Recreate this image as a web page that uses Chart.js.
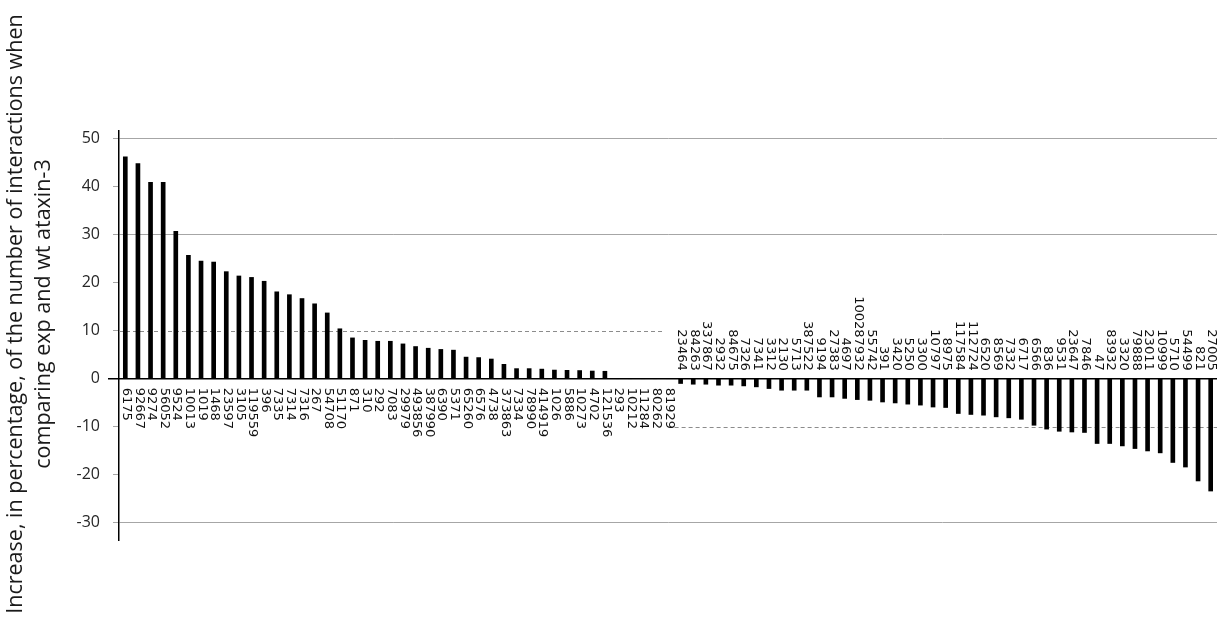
<!DOCTYPE html>
<html>
<head>
<meta charset="utf-8">
<script src="https://cdn.jsdelivr.net/npm/chart.js@4/dist/chart.umd.min.js"></script>
<style>
  html, body { margin: 0; padding: 0; background: #fff; }
  #wrap { width: 1217px; height: 619px; position: relative; }
</style>
</head>
<body>
<div id="wrap"><canvas id="chart" width="1217" height="619"></canvas></div>
<script>
// Gene IDs along the x axis, sorted by change
const categories = [
  '6175','92667','9274','56052','9524','10013','1019','1468','23597','3105',
  '119559','396','7335','7314','7316','267','54708','51170','871','310',
  '292','7083','29979','493856','387990','6390','5371','65260','6576','4738',
  '373863','7334','78990','414919','1026','5886','10273','4702','121536','293',
  '10212','11284','80262','81929','23464','84263','337867','2932','84675','7326',
  '7341','3312','2130','5713','387522','9194','27383','4697','100287932','55742',
  '391','3420','5250','3300','10797','8975','117584','112724','6520','8569',
  '7332','6717','6566','836','9531','23647','7846','47','83932','3320',
  '79888','23011','10999','5710','54499','821','27005'
];

// Percentage change in the number of interactions (exp vs wt ataxin-3)
const changePercent = [
  46.2, 44.8, 40.9, 40.9, 30.7, 25.7, 24.5, 24.3, 22.3, 21.4,
  21.1, 20.3, 18.1, 17.5, 16.7, 15.6, 13.7, 10.4, 8.5, 8.0,
  7.8, 7.8, 7.25, 6.7, 6.35, 6.1, 5.95, 4.5, 4.4, 4.1,
  3.0, 2.1, 2.1, 2.0, 1.8, 1.75, 1.7, 1.6, 1.55, 0,
  0, 0, 0, 0, -1.0, -1.15, -1.15, -1.35, -1.35, -1.5,
  -1.7, -2.05, -2.4, -2.4, -2.4, -3.8, -3.8, -4.1, -4.35, -4.5,
  -4.85, -5.05, -5.3, -5.5, -5.9, -6.0, -7.25, -7.45, -7.6, -7.95,
  -8.15, -8.45, -9.7, -10.5, -10.95, -11.1, -11.2, -13.5, -13.5, -14.0,
  -14.55, -15.05, -15.45, -17.45, -18.4, -21.3, -23.4
];

const yTickValues = [50, 40, 30, 20, 10, 0, -10, -20, -30];
const solidGridValues = [50, 30, -30];
const dashedGuideValues = [10, -10];
const yTitleLines = [
  'Increase, in percentage, of the number of interactions when',
  'comparing exp and wt ataxin-3'
];

// Dashed guides, zero line, rotated gene labels and the two-line axis title
const annotatePlugin = {
  id: 'annotate',
  beforeDatasetsDraw(chart) {
    const { ctx, chartArea, scales } = chart;
    const x = scales.x, y = scales.y;
    ctx.save();
    ctx.strokeStyle = '#8c8c8c';
    ctx.lineWidth = 1;
    ctx.setLineDash([4, 3]);
    // +10 guide spans the rising side, -10 guide the falling side
    const splitLeft = x.getPixelForValue(43) - 4;
    const splitRight = x.getPixelForValue(44) - 6;
    let py = Math.round(y.getPixelForValue(dashedGuideValues[0])) + 0.5;
    ctx.beginPath(); ctx.moveTo(chartArea.left, py); ctx.lineTo(splitLeft, py); ctx.stroke();
    py = Math.round(y.getPixelForValue(dashedGuideValues[1])) + 0.5;
    ctx.beginPath(); ctx.moveTo(splitRight, py); ctx.lineTo(chartArea.right, py); ctx.stroke();
    ctx.restore();
  },
  afterDatasetsDraw(chart) {
    const { ctx, chartArea, scales } = chart;
    const x = scales.x, y = scales.y;
    const y0 = y.getPixelForValue(0);
    ctx.save();
    // zero line
    ctx.strokeStyle = '#000';
    ctx.lineWidth = 1.5;
    ctx.beginPath();
    ctx.moveTo(chartArea.left - 11, y0);
    ctx.lineTo(chartArea.right, y0);
    ctx.stroke();

    // gene labels: below the line for gains, above it for losses
    ctx.fillStyle = '#111';
    ctx.font = '13px "DejaVu Sans"';
    ctx.textBaseline = 'middle';
    categories.forEach((name, i) => {
      const px = x.getPixelForValue(i) + 1;
      const v = changePercent[i];
      ctx.save();
      if (v >= 0) {
        ctx.translate(px, y0 + 9);
        ctx.rotate(Math.PI / 2);
        ctx.textAlign = 'left';
      } else {
        ctx.translate(px, y0 - 8);
        ctx.rotate(Math.PI / 2);
        ctx.textAlign = 'right';
      }
      ctx.fillText(name, 0, 0);
      ctx.restore();
    });

    // axis title
    ctx.fillStyle = '#1a1a1a';
    ctx.font = '21.5px "Open Sans"';
    ctx.textAlign = 'center';
    ctx.textBaseline = 'middle';
    const cy = 314;
    [16, 44].forEach((cx, k) => {
      ctx.save();
      ctx.translate(cx, cy);
      ctx.rotate(-Math.PI / 2);
      ctx.fillText(yTitleLines[k], 0, 0);
      ctx.restore();
    });
    ctx.restore();
  }
};

new Chart(document.getElementById('chart'), {
  type: 'bar',
  data: {
    labels: categories,
    datasets: [{
      data: changePercent,
      backgroundColor: '#000',
      borderWidth: 0,
      barThickness: 4
    }]
  },
  options: {
    responsive: false,
    animation: false,
    layout: { padding: { top: 131, bottom: 79, left: 0, right: 0 } },
    plugins: { legend: { display: false }, tooltip: { enabled: false } },
    scales: {
      x: {
        display: false,
        offset: true
      },
      y: {
        min: -33.6,
        max: 51.6,
        afterBuildTicks(scale) {
          scale.ticks = yTickValues.map(v => ({ value: v }));
        },
        afterFit(scale) { scale.width = 119; },
        border: { color: '#000', width: 1.5 },
        grid: {
          color: c => solidGridValues.includes(c.tick && c.tick.value) ? '#a6a6a6' : 'rgba(0,0,0,0)',
          tickColor: '#a6a6a6',
          tickLength: 6,
          lineWidth: 1
        },
        ticks: {
          padding: 13,
          color: '#262626',
          font: { family: 'Open Sans', size: 16 },
          callback: v => String(v)
        }
      }
    }
  },
  plugins: [annotatePlugin]
});
</script>
</body>
</html>
